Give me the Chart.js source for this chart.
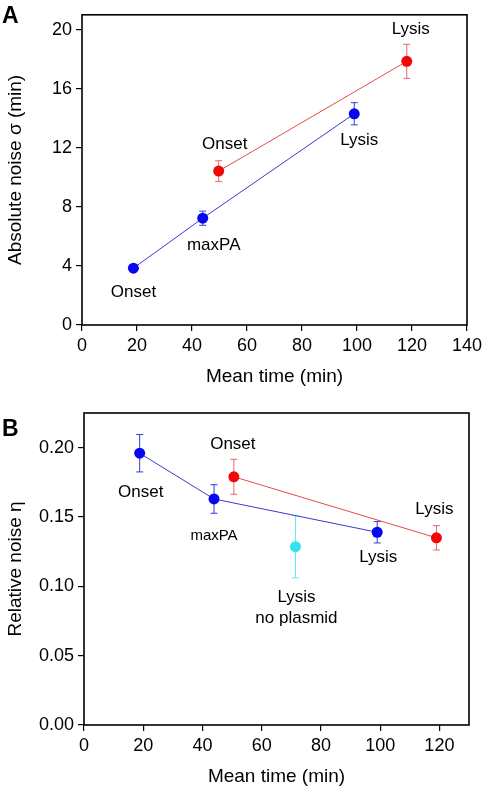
<!DOCTYPE html>
<html>
<head>
<meta charset="utf-8">
<script src="https://cdn.jsdelivr.net/npm/chart.js@4.4.0/dist/chart.umd.min.js"></script>
<style>
  body { margin: 0; background: #fff; width: 487px; height: 787px; position: relative; overflow: hidden; }
  canvas { position: absolute; left: 0; }
  #chartA { top: 0; }
  #chartB { top: 390px; }
  .panel { position: absolute; font: bold 23px "Liberation Sans", Arial, sans-serif; line-height: 23px; }
</style>
</head>
<body>
<canvas id="chartA" width="487" height="390"></canvas>
<canvas id="chartB" width="487" height="397"></canvas>
<div class="panel" style="left:2px;top:4px">A</div>
<div class="panel" style="left:2px;top:417px">B</div>
<script>
// panel A: absolute noise
const timeA_blue = [18.7, 43.9, 99.0];
const sigmaA_blue = [3.85, 7.23, 14.3];
const errA_blue = [0.15, 0.48, 0.75];
const timeA_red = [49.7, 118.1];
const sigmaA_red = [10.42, 17.85];
const errA_red = [0.7, 1.15];
const xTicksA = [0, 20, 40, 60, 80, 100, 120, 140];
const yTicksA = [0, 4, 8, 12, 16, 20];

// panel B: relative noise
const timeB_blue = [18.8, 43.9, 99.0];
const etaB_blue = [0.196, 0.163, 0.139];
const errB_blue = [0.0135, 0.0103, 0.0077];
const timeB_red = [50.6, 119.0];
const etaB_red = [0.179, 0.135];
const errB_red = [0.0126, 0.0088];
const timeB_cyan = [71.4];
const etaB_cyan = [0.1286];
const errB_cyan = [0.0225];
const xTicksB = [0, 20, 40, 60, 80, 100, 120];
const yTicksB = [0, 0.05, 0.10, 0.15, 0.20];

const blueNames = ['Onset', 'maxPA', 'Lysis'];
const redNames = ['Onset', 'Lysis'];
const cyanNames = ['Lysis\nno plasmid'];

const BLUE = '#0808ee', RED = '#f00808', CYAN = '#30e4ee';

Chart.defaults.font.family = '"Liberation Sans", Arial, sans-serif';
Chart.defaults.color = '#000';

const toPoints = (xs, ys) => xs.map((v, i) => ({ x: v, y: ys[i] }));

const extras = {
  id: 'extras',
  beforeDatasetsDraw(chart) {
    const { ctx, chartArea: a, scales: { x, y } } = chart;
    ctx.save();
    ctx.strokeStyle = '#000';
    ctx.lineWidth = 1.6;
    ctx.strokeRect(a.left, a.top, a.right - a.left, a.bottom - a.top);
    chart.data.datasets.forEach(ds => {
      ctx.strokeStyle = ds.errColor;
      ctx.lineWidth = 1;
      ds.data.forEach((p, i) => {
        const px = x.getPixelForValue(p.x);
        const y1 = y.getPixelForValue(p.y + ds.err[i]);
        const y2 = y.getPixelForValue(p.y - ds.err[i]);
        ctx.beginPath();
        ctx.moveTo(px, y1); ctx.lineTo(px, y2);
        ctx.moveTo(px - 3.5, y1); ctx.lineTo(px + 3.5, y1);
        ctx.moveTo(px - 3.5, y2); ctx.lineTo(px + 3.5, y2);
        ctx.stroke();
      });
    });
    ctx.restore();
  },
  afterDatasetsDraw(chart) {
    const { ctx, scales: { x, y } } = chart;
    ctx.save();
    ctx.fillStyle = '#000';
    ctx.textAlign = 'center';
    ctx.textBaseline = 'middle';
    chart.data.datasets.forEach(ds => {
      ds.data.forEach((p, i) => {
        const [dx, dy] = ds.nameOffsets[i];
        const size = ds.nameSizes ? ds.nameSizes[i] : 17;
        ctx.font = size + 'px "Liberation Sans", Arial, sans-serif';
        const px = x.getPixelForValue(p.x) + dx;
        const py = y.getPixelForValue(p.y) + dy;
        ds.names[i].split('\n').forEach((line, k) => ctx.fillText(line, px, py + k * 21));
      });
    });
    ctx.restore();
  }
};

function series(xs, ys, err, color, lineColor, errColor, names, offsets, sizes) {
  return {
    data: toPoints(xs, ys),
    err: err,
    errColor: errColor,
    names: names,
    nameOffsets: offsets,
    nameSizes: sizes,
    showLine: !!lineColor,
    borderColor: lineColor || color,
    borderWidth: 1,
    pointRadius: 5.5,
    pointHoverRadius: 5.5,
    pointBorderWidth: 0,
    pointBackgroundColor: color,
    clip: false
  };
}

function axis(min, max, ticks, fit, title, fmt, titlePad) {
  return {
    type: 'linear',
    min: min,
    max: max,
    afterBuildTicks: s => { s.ticks = ticks.map(v => ({ value: v })); },
    afterFit: fit,
    grid: { display: true, drawOnChartArea: false, drawTicks: true, tickLength: 6, color: '#000', lineWidth: 1.2 },
    border: { display: false },
    ticks: { font: { size: 18 }, color: '#000', padding: 4, maxRotation: 0, autoSkip: false, callback: fmt },
    title: { display: true, text: title, font: { size: 19, lineHeight: 1 }, color: '#000', padding: titlePad }
  };
}

function makeChart(id, datasets, xs, ys, pad) {
  return new Chart(document.getElementById(id), {
    type: 'scatter',
    data: { datasets: datasets },
    options: {
      responsive: false,
      animation: false,
      events: [],
      layout: { padding: pad },
      plugins: { legend: { display: false }, tooltip: { enabled: false } },
      scales: { x: xs, y: ys }
    },
    plugins: [extras]
  });
}

makeChart('chartA', [
  series(timeA_blue, sigmaA_blue, errA_blue, BLUE, '#3838d8', '#3040d8', blueNames, [[0, 24], [11, 27], [5, 27]]),
  series(timeA_red, sigmaA_red, errA_red, RED, '#e84848', '#ec6464', redNames, [[6, -27], [4, -32]])
],
  axis(0, 140, xTicksA, s => { s.height = 65; }, 'Mean time (min)', v => v, { top: 0, bottom: 3.5 }),
  axis(0, 21, yTicksA, s => { s.width = 82; }, 'Absolute noise σ (min)', v => v, { top: 6.5, bottom: 0 }),
  { left: 0, right: 20, top: 13, bottom: 0 });

makeChart('chartB', [
  series(timeB_blue, etaB_blue, errB_blue, BLUE, '#3838d8', '#3040d8', blueNames, [[1, 39], [0, 37], [1, 25]], [17, 15, 17]),
  series(timeB_red, etaB_red, errB_red, RED, '#e84848', '#ec6464', redNames, [[-1, -32], [-2, -28]]),
  series(timeB_cyan, etaB_cyan, errB_cyan, CYAN, null, '#60eaf0', cyanNames, [[1, 51]])
],
  axis(0, 130, xTicksB, s => { s.height = 62; }, 'Mean time (min)', v => v, { top: 0, bottom: 0.5 }),
  axis(0, 0.225, yTicksB, s => { s.width = 84; }, 'Relative noise η', v => v.toFixed(2), { top: 6.5, bottom: 0 }),
  { left: 0, right: 18, top: 23, bottom: 0 });
</script>
</body>
</html>
